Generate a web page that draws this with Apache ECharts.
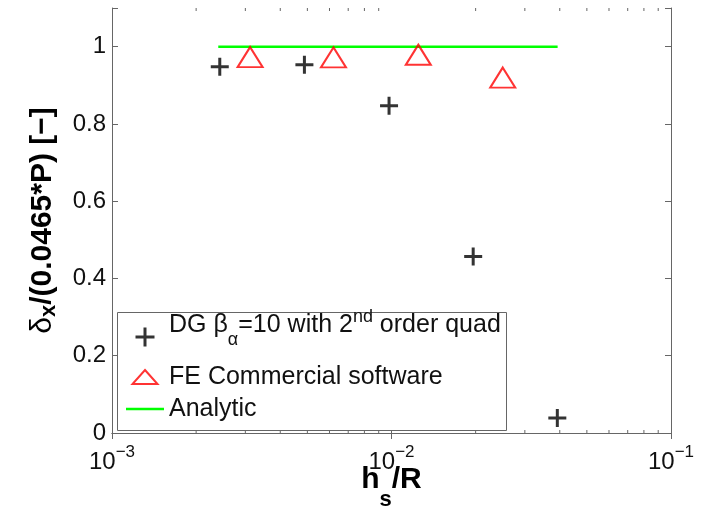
<!DOCTYPE html>
<html lang="en" style="height: 100%">
<head>
  <meta charset="utf-8">
</head>
<body style="height: 100%; margin: 0; background: #fff">
  <div id="container" style="width: 704px; height: 507px"></div>

  <script type="text/javascript" src="https://fastly.jsdelivr.net/npm/echarts@6/dist/echarts.min.js"></script>
  <script type="text/javascript">
// DG beta_alpha = 10, 2nd order quadrature
var dgX = [0.00243, 0.00488, 0.0098, 0.0196, 0.0392];
var dgY = [0.948, 0.953, 0.847, 0.457, 0.039];
// FE commercial software
var feX = [0.00312, 0.0062, 0.01247, 0.025];
var feY = [0.973, 0.972, 0.979, 0.92];
// analytic solution
var anX = [0.0024, 0.0393];
var anY = [1, 1];
// minor ticks of the log axis
var minorTicks = [0.002, 0.003, 0.004, 0.005, 0.006, 0.007, 0.008, 0.009,
                  0.02, 0.03, 0.04, 0.05, 0.06, 0.07, 0.08, 0.09];

var FONT = 'Liberation Sans, Arial, sans-serif';
var AXIS = '#666';
var plusPath = 'path://M7.5,0h3v7.5h7.5v3h-7.5v7.5h-3v-7.5h-7.5v-3h7.5z';
// legend icons drawn in a 38x20 frame (the corner points fix the frame)
var FRAME = 'M0,0L0,0M38,20L38,20';
var plusIcon = 'path://' + FRAME + 'M17.5,0.5h3v8h8v3h-8v8h-3v-8h-8v-3h8z';
var triIcon = 'path://' + FRAME + 'M19,3L31.5,17L6.5,17Z';
var lineIcon = 'path://' + FRAME + 'M0,8.75H38V11.25H0Z';

function zip(xs, ys) {
  return xs.map(function (x, i) { return [x, ys[i]]; });
}

var dom = document.getElementById('container');
var myChart = echarts.init(dom, null, { renderer: 'canvas' });

var xCommon = {
  type: 'log',
  logBase: 10,
  min: 0.001,
  max: 0.1,
  axisLine: { lineStyle: { color: AXIS, width: 1 } },
  axisTick: { inside: true, length: 6, lineStyle: { color: AXIS } },
  splitLine: { show: false },
  minorTick: { show: false }
};
var yCommon = {
  type: 'value',
  min: 0,
  max: 1.1,
  interval: 0.2,
  axisLine: { show: true, lineStyle: { color: AXIS, width: 1 } },
  axisTick: { show: true, inside: true, length: 6, lineStyle: { color: AXIS } },
  splitLine: { show: false }
};

var option = {
  animation: false,
  grid: { left: 112, right: 33, top: 8, bottom: 74, containLabel: false, outerBoundsMode: 'none' },
  graphic: {
    elements: [
      {
        // legend frame
        type: 'rect',
        x: 117.5,
        y: 312.5,
        z: 3,
        shape: { x: 0, y: 0, width: 389, height: 118 },
        style: { fill: '#fff', stroke: AXIS, lineWidth: 1 }
      }
    ]
  },
  xAxis: [
    Object.assign({}, xCommon, {
      position: 'bottom',
      name: '{b|h}{sub|s}{b|/R}',
      nameLocation: 'middle',
      nameGap: 35,
      nameMoveOverlap: false,
      nameTextStyle: {
        rich: {
          b: { fontFamily: FONT, fontSize: 30, fontWeight: 'bold', color: '#000',
               verticalAlign: 'top', height: 24, padding: [0, 0, 8, 0] },
          sub: { fontFamily: FONT, fontSize: 22, fontWeight: 'bold', color: '#000',
                 verticalAlign: 'bottom', height: 1 }
        }
      },
      axisLabel: {
        margin: 16,
        formatter: function (v) {
          var e = Math.round(Math.log(v) / Math.LN10);
          return '{b|10}{sup|\u2212' + Math.abs(e) + '}';
        },
        rich: {
          b: { fontFamily: FONT, fontSize: 24, color: '#111', height: 26 },
          sup: { fontFamily: FONT, fontSize: 17, color: '#111', height: 1, padding: [0, 0, 20, 0] }
        }
      }
    }),
    Object.assign({}, xCommon, {
      position: 'top',
      axisLabel: { show: false }
    })
  ],
  yAxis: [
    Object.assign({}, yCommon, {
      position: 'left',
      name: '{d|\u03b4}{sub|x}{b|/(0.0465*P) [\u2212]}',
      nameLocation: 'middle',
      nameRotate: 90,
      nameGap: 50,
      nameMoveOverlap: false,
      nameTextStyle: {
        rich: {
          d: { fontFamily: FONT, fontSize: 30, color: '#000',
               verticalAlign: 'top', height: 26, padding: [0, 0, 6, 0] },
          b: { fontFamily: FONT, fontSize: 30, fontWeight: 'bold', color: '#000',
               verticalAlign: 'top', height: 26, padding: [0, 0, 6, 0] },
          sub: { fontFamily: FONT, fontSize: 22, fontWeight: 'bold', color: '#000',
                 height: 1, padding: [5, 0, 0, 0] }
        }
      },
      axisLabel: {
        margin: 6,
        fontFamily: FONT,
        fontSize: 24,
        color: '#111',
        formatter: function (v) { return v > 1.05 ? '' : String(v); }
      }
    }),
    Object.assign({}, yCommon, {
      position: 'right',
      axisLabel: { show: false }
    })
  ],
  legend: {
    orient: 'vertical',
    left: 125,
    top: 308,
    padding: 0,
    itemGap: 7,
    itemWidth: 38,
    itemHeight: 20,
    z: 5,
    data: [
      { name: 'dg', icon: plusIcon },
      { name: 'fe', icon: triIcon },
      { name: 'an', icon: lineIcon }
    ],
    formatter: function (name) {
      if (name === 'dg') return '{t1|DG \u03b2}{sub|\u03b1}{t1|=10 with 2}{sup|nd}{t1| order quad}{pad| }';
      if (name === 'fe') return '{t|FE Commercial software}';
      return '{t|Analytic}';
    },
    textStyle: {
      rich: {
        t: { fontFamily: FONT, fontSize: 25, color: '#111', height: 27 },
        t1: { fontFamily: FONT, fontSize: 25, color: '#111',
              verticalAlign: 'top', height: 19, padding: [0, 0, 24, 0] },
        sub: { fontFamily: FONT, fontSize: 18, color: '#111', height: 1, padding: [6, 0, 0, 0] },
        sup: { fontFamily: FONT, fontSize: 18, color: '#111', verticalAlign: 'top', height: 3 },
        pad: { fontFamily: FONT, fontSize: 18, color: '#111', height: 1, padding: [23, 0, 0, 0] }
      }
    }
  },
  series: [
    {
      name: 'dg',
      type: 'scatter',
      symbol: plusPath,
      symbolSize: 18,
      itemStyle: { color: '#000' },
      data: zip(dgX, dgY),
      z: 3
    },
    {
      name: 'fe',
      type: 'scatter',
      symbol: 'triangle',
      symbolSize: [25, 20],
      itemStyle: { color: 'rgba(0,0,0,0)', borderColor: '#ff0000', borderWidth: 2 },
      data: zip(feX, feY),
      z: 3
    },
    {
      name: 'an',
      type: 'line',
      symbol: 'none',
      lineStyle: { color: '#00ff00', width: 2.5 },
      itemStyle: { color: '#00ff00' },
      data: zip(anX, anY),
      z: 2
    },
    {
      name: 'minor',
      type: 'custom',
      silent: true,
      clip: false,
      data: minorTicks.map(function (v) { return [v, 0]; }),
      renderItem: function (params, api) {
        var v = api.value(0);
        var b = api.coord([v, 0]);
        var t = api.coord([v, 1.1]);
        var st = { stroke: AXIS, lineWidth: 1 };
        return {
          type: 'group',
          children: [
            { type: 'line', shape: { x1: b[0], y1: b[1], x2: b[0], y2: b[1] - 3 }, style: st },
            { type: 'line', shape: { x1: t[0], y1: t[1], x2: t[0], y2: t[1] + 3 }, style: st }
          ]
        };
      }
    }
  ]
};

myChart.setOption(option);
window.addEventListener('resize', myChart.resize);
  </script>
</body>
</html>
